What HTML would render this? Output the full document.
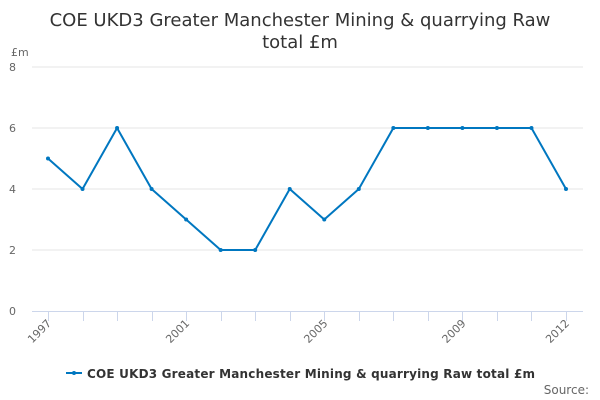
<!DOCTYPE html>
<html><head><meta charset="utf-8"><style>
body{margin:0;background:#fff;}
svg{display:block;font-family:"DejaVu Sans","Liberation Sans",sans-serif;}
</style></head><body>
<svg id="chart" width="600" height="400">
<text x="300" y="26" text-anchor="middle" font-size="18" fill="#333">COE UKD3 Greater Manchester Mining &amp; quarrying Raw</text>
<text x="300" y="48" text-anchor="middle" font-size="18" fill="#333">total £m</text>
<text x="11" y="56" font-size="11" fill="#666">£m</text>
<g id="grid"></g><g id="xaxis"></g><g id="series"></g>
<g>
<line x1="66" y1="373" x2="82" y2="373" stroke="#0077c0" stroke-width="2"/>
<circle cx="74" cy="373" r="2" fill="#0077c0"/>
<text x="87" y="378" font-size="12" font-weight="bold" fill="#333" textLength="448" lengthAdjust="spacing">COE UKD3 Greater Manchester Mining &amp; quarrying Raw total £m</text>
</g>
<text x="589" y="394" text-anchor="end" font-size="12" fill="#666">Source:</text>
</svg>
<script>
const years=[1997,1998,1999,2000,2001,2002,2003,2004,2005,2006,2007,2008,2009,2010,2011,2012];
const values=[5,4,6,4,3,2,2,4,3,4,6,6,6,6,6,4];
const yTicks=[0,2,4,6,8];
const xLabels=[1997,2001,2005,2009,2012];
const NS="http://www.w3.org/2000/svg";
const x=y=>48+(y-1997)*(566-48)/15;
const yS=v=>311-v*(311-67)/8;
function mk(tag,attrs,parent){const e=document.createElementNS(NS,tag);for(const k in attrs)e.setAttribute(k,attrs[k]);parent.appendChild(e);return e;}
const grid=document.getElementById('grid'),xa=document.getElementById('xaxis'),se=document.getElementById('series');
yTicks.forEach(t=>{
  if(t>0){const l=mk('line',{x1:32,x2:583,y1:yS(t),y2:yS(t),stroke:'#e6e6e6'},grid);
  
  }
  const tx=mk('text',{x:16,y:yS(t)+4,'font-size':11,fill:'#666','text-anchor':'end'},grid);
  tx.textContent=t;
  
  
});
const ax=mk('line',{x1:32,x2:583,y1:311.5,y2:311.5,stroke:'#ccd6eb'},xa);


years.forEach(y=>{
  const t=mk('line',{x1:Math.round(x(y))+0.5,x2:Math.round(x(y))+0.5,y1:311,y2:321,stroke:'#ccd6eb'},xa);
  
  
});
xLabels.forEach(y=>{
  const px=x(y)+4,py=324;
  const t=mk('text',{x:px,y:py,'font-size':11,fill:'#666','text-anchor':'end',transform:`rotate(-45 ${px} ${py})`},xa);
  t.textContent=y;
  
  
});
const pts=years.map((y,i)=>x(y)+','+yS(values[i])).join(' ');
const pl=mk('polyline',{points:pts,fill:'none',stroke:'#0077c0','stroke-width':2,'stroke-linejoin':'round'},se);


years.forEach((y,i)=>{
  const c=mk('circle',{cx:x(y),cy:yS(values[i]),r:2,fill:'#0077c0'},se);
  
  
});
</script>
</body></html>
